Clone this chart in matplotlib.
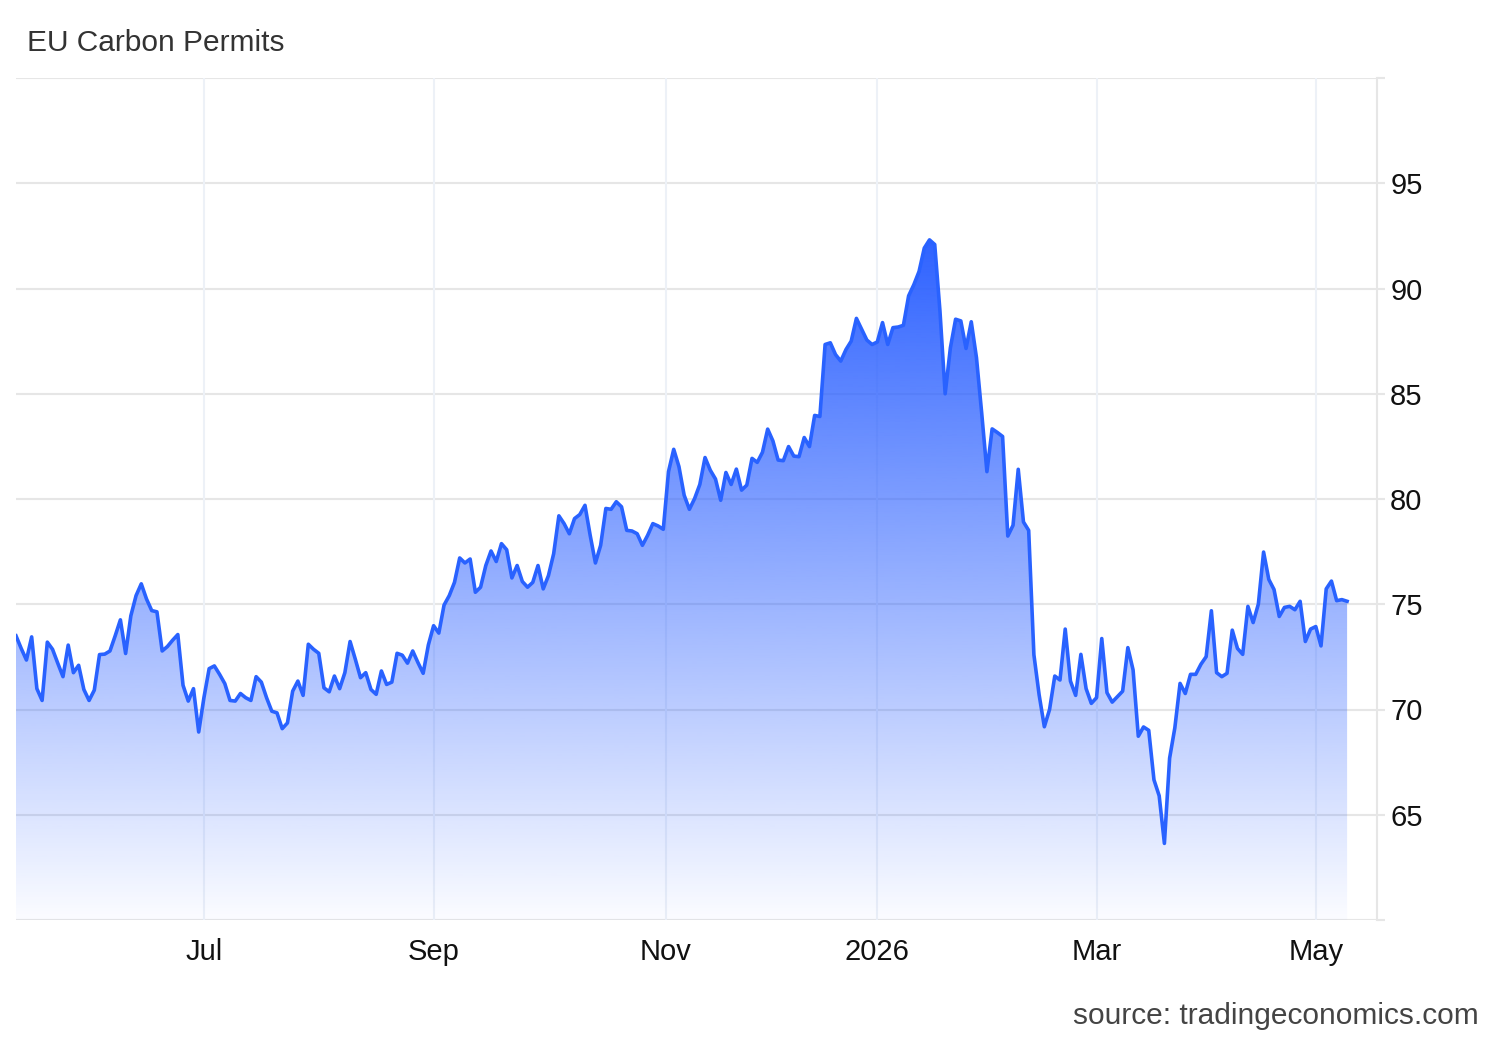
import numpy as np
import matplotlib
matplotlib.use('Agg')
import matplotlib.pyplot as plt

plt.rcParams['font.family'] = ['Liberation Sans', 'DejaVu Sans']

# daily closes, EUR per tonne (one value per trading day)
prices = [
    73.5, 72.9, 72.35, 73.45, 70.99, 70.43, 73.2, 72.86, 72.2, 71.56,
    73.06, 71.75, 72.1, 70.95, 70.43, 70.92, 72.61, 72.63, 72.78, 73.5,
    74.26, 72.66, 74.45, 75.41, 75.97, 75.25, 74.7, 74.64, 72.78, 72.99,
    73.29, 73.56, 71.15, 70.4, 70.99, 68.93, 70.56, 71.94, 72.07, 71.67,
    71.23, 70.43, 70.4, 70.76, 70.56,
    70.43, 71.56, 71.3, 70.56, 69.92, 69.84, 69.09, 69.36, 70.87, 71.35,
    70.67, 73.1, 72.86, 72.67, 71.03, 70.84, 71.59, 70.99, 71.75, 73.23,
    72.39, 71.51, 71.75, 70.95, 70.72, 71.83, 71.19, 71.3, 72.67, 72.58,
    72.2, 72.78, 72.23, 71.72, 73.07, 73.98, 73.63, 74.96, 75.41, 76.04,
    77.2, 76.96, 77.15,
    75.57, 75.81, 76.84, 77.53, 77.03, 77.88, 77.59, 76.25, 76.84, 76.08,
    75.81, 76.04, 76.84, 75.73, 76.36, 77.4, 79.2, 78.83, 78.35, 79.07,
    79.26, 79.7, 78.27, 76.96, 77.8, 79.55, 79.51, 79.87, 79.63, 78.51,
    78.48, 78.35, 77.8, 78.27, 78.83, 78.72, 78.56, 81.3, 82.36, 81.54,
    80.18, 79.51, 80.02, 80.69, 81.97, 81.37, 80.95, 79.94, 81.26, 80.69,
    81.42, 80.42, 80.66, 81.93, 81.74, 82.22, 83.32, 82.76, 81.85, 81.82,
    82.49, 82.04, 82.01, 82.92, 82.49, 83.97, 83.92, 87.34, 87.42, 86.86,
    86.55, 87.1, 87.5, 88.58, 88.06, 87.55, 87.34, 87.46, 88.38, 87.34,
    88.14, 88.17,
    88.25, 89.65, 90.18, 90.81, 91.92, 92.31, 92.09, 88.94, 85.0, 87.18,
    88.54, 88.46, 87.15, 88.42, 86.71, 84.08, 81.3, 83.33, 83.16, 82.97,
    78.24, 78.75, 81.41, 78.91, 78.51, 72.6, 70.7, 69.18, 70.0, 71.59,
    71.4,
    73.82, 71.35, 70.67, 72.62, 70.99, 70.29, 70.56, 73.37, 70.8, 70.35,
    70.61, 70.87, 72.94, 71.88, 68.73, 69.17, 69.01, 66.66, 65.9, 63.64,
    67.69, 69.13, 71.24, 70.76, 71.67, 71.67, 72.15, 72.51, 74.69, 71.75,
    71.56, 71.72, 73.77, 72.9, 72.62, 74.9, 74.13, 75.01, 77.48, 76.18,
    75.7, 74.42, 74.85, 74.9, 74.74, 75.14, 73.23, 73.82, 73.94, 73.02,
    75.73, 76.1, 75.17, 75.22, 75.14,
]

# trading-day index of each month label
month_pos = [36, 80, 124.5, 165, 207, 249]
month_labels = ['Jul', 'Sep', 'Nov', '2026', 'Mar', 'May']
y_ticks = [60, 65, 70, 75, 80, 85, 90, 95, 100]
y_labels = ['', '65', '70', '75', '80', '85', '90', '95', '']

x = np.arange(len(prices))
y = np.array(prices)
ymin, ymax = 60, 100

fig = plt.figure(figsize=(15, 10.4), dpi=100)
ax = fig.add_axes([16 / 1500, 1 - 920 / 1040, 1361 / 1500, 842 / 1040])

# grid first, area and line on top
for v in y_ticks:
    ax.axhline(v, color='#e6e6e6', lw=1.5, zorder=0)
for p in month_pos:
    ax.axvline(p, color='#edf1f7', lw=1.5, zorder=0)

# gradient area under the line
area = ax.fill_between(x, y, ymin, color='none', lw=0)
grad = np.zeros((256, 1, 4))
grad[:, 0, 0] = 46 / 255
grad[:, 0, 1] = 98 / 255
grad[:, 0, 2] = 1.0
grad[:, 0, 3] = np.linspace(0.02, 1.0, 256)
img = ax.imshow(grad, extent=[x[0], x[-1], ymin, y.max()], origin='lower',
                aspect='auto', zorder=1, interpolation='bilinear')
img.set_clip_path(area.get_paths()[0], transform=ax.transData)

ax.plot(x, y, color='#2962ff', lw=2.6, solid_joinstyle='round', zorder=2)

ax.set_xlim(0, 1361 / 5.22)
ax.set_ylim(ymin, ymax)

for side in ['top', 'left', 'bottom']:
    ax.spines[side].set_visible(False)
ax.spines['right'].set_color('#e6e6e6')
ax.spines['right'].set_linewidth(1.5)

ax.yaxis.tick_right()
ax.set_yticks(y_ticks)
ax.set_yticklabels(y_labels)
ax.tick_params(axis='y', length=6, width=1.5, color='#e6e6e6', pad=3.5,
               labelsize=21, labelcolor='#111111')

ax.set_xticks(month_pos)
ax.set_xticklabels(month_labels)
ax.tick_params(axis='x', length=0, pad=13, labelsize=21, labelcolor='#111111')

fig.text(27 / 1500, 1 - 50.7 / 1040, 'EU Carbon Permits', fontsize=21.5,
         color='#333333', ha='left', va='baseline')
fig.text(1479 / 1500, 1 - 1024.3 / 1040, 'source: tradingeconomics.com',
         fontsize=21.5, color='#444444', ha='right', va='baseline')

fig.savefig('out.png', dpi=100)
